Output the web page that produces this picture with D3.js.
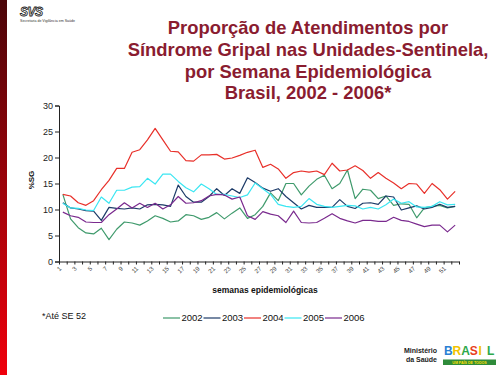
<!DOCTYPE html>
<html>
<head>
<meta charset="utf-8">
<script src="https://cdn.jsdelivr.net/npm/d3@7"></script>
<style>
  html, body { margin: 0; padding: 0; background: #fff; }
  svg { display: block; font-family: Arial, "Liberation Sans", sans-serif; }
</style>
</head>
<body>
<svg id="chart" width="500" height="375"></svg>
<script>
// weeks 1..52, %SG per year
const weeks = d3.range(1, 53);
const years = ['2002', '2003', '2004', '2005', '2006'];
const colors = ['#3f9a6c', '#1d3b68', '#e8302a', '#3ae6f2', '#7a2a8e'];

const s2002 = [12.9, 8.2, 6.5, 5.5, 5.3, 6.4, 4.2, 6.2, 7.6, 7.4, 7.0, 7.8, 8.8, 8.3, 7.6, 7.8,
  9.0, 8.8, 8.1, 8.5, 9.4, 8.2, 9.3, 10.3, 8.3, 9.0, 10.6, 13.2, 11.7, 15.0, 15.0, 12.8,
  14.5, 15.8, 16.6, 14.0, 15.0, 17.6, 12.1, 13.9, 13.7, 12.1, 12.6, 10.8, 11.1, 11.0, 8.4, 10.3,
  10.6, 10.8, 10.3, 10.6];
const s2003 = [11.3, 10.3, 10.1, 9.8, 9.7, 7.9, 10.4, 10.2, 10.1, 10.3, 10.1, 10.9, 11.0, 10.9, 10.6, 14.7,
  12.5, 11.4, 11.4, 12.5, 14.0, 12.7, 14.0, 13.1, 16.1, 15.2, 14.1, 13.5, 14.0, 12.5, 11.3, 10.1,
  10.8, 10.4, 10.4, 10.4, 11.9, 10.6, 10.2, 11.2, 11.3, 11.0, 12.6, 12.4, 9.9, 10.3, 10.7, 10.1,
  10.4, 11.0, 10.4, 10.6];
const s2004 = [12.9, 12.6, 11.3, 10.8, 11.7, 13.8, 15.6, 17.9, 17.9, 21.0, 21.5, 23.4, 25.6, 23.4, 21.2, 21.1,
  19.4, 19.3, 20.5, 20.5, 20.6, 19.7, 19.9, 20.4, 21.0, 21.4, 18.1, 18.7, 17.8, 16.0, 17.1, 17.4,
  17.2, 17.4, 16.7, 18.9, 17.4, 17.6, 18.4, 17.5, 16.0, 17.1, 16.0, 15.1, 14.0, 15.0, 14.9, 13.1,
  15.0, 13.8, 12.0, 13.5];
const s2005 = [11.2, 10.3, 10.2, 9.9, 9.8, 12.4, 11.2, 13.7, 13.7, 14.3, 14.4, 16.0, 14.9, 16.8, 16.8, 15.4,
  14.2, 13.4, 14.9, 14.0, 12.9, 12.9, 12.6, 12.3, 12.8, 15.1, 14.0, 12.9, 11.0, 10.6, 10.4, 10.6,
  12.1, 11.0, 10.6, 10.4, 10.6, 10.8, 10.7, 10.1, 10.4, 10.1, 10.9, 12.0, 11.2, 11.5, 10.5, 10.4,
  10.6, 11.5, 10.9, 11.0];
const s2006 = [9.5, 8.8, 8.5, 7.6, 7.5, 7.5, 9.0, 10.1, 11.3, 10.3, 11.2, 10.4, 11.2, 10.1, 10.9, 12.5,
  11.2, 11.3, 11.7, 12.6, 12.9, 12.8, 12.0, 12.4, 8.8, 8.1, 9.6, 9.1, 8.8, 7.5, 9.7, 7.5,
  7.4, 7.5, 8.3, 9.2, 8.3, 7.8, 7.4, 7.9, 7.9, 7.7, 7.7, 8.5, 7.9, 7.7, 7.2, 6.7,
  7.0, 7.0, 5.7, 7.0];
const series = [s2002, s2003, s2004, s2005, s2006];
const yTicks = [0, 5, 10, 15, 20, 25, 30];
const titleLines = ['Proporção de Atendimentos por', 'Síndrome Gripal nas Unidades-Sentinela,',
  'por Semana Epidemiológica', 'Brasil, 2002 - 2006*'];

const svg = d3.select('#chart');
const defs = svg.append('defs');

// left red strip
const grad = defs.append('linearGradient').attr('id', 'strip').attr('x1', 0).attr('y1', 0).attr('x2', 0).attr('y2', 1);
grad.append('stop').attr('offset', '0%').attr('stop-color', '#4a0508');
grad.append('stop').attr('offset', '100%').attr('stop-color', '#f0000c');
svg.append('rect').attr('x', 0).attr('y', 0).attr('width', 7).attr('height', 375).attr('fill', 'url(#strip)');

// SVS logo
svg.append('text').attr('x', 20).attr('y', 16).attr('font-size', 12).attr('font-weight', 'bold')
  .attr('font-style', 'italic').attr('fill', '#fff').attr('stroke', '#222').attr('stroke-width', 0.8)
  .attr('letter-spacing', -0.5).text('SVS');
svg.append('text').attr('x', 20).attr('y', 22).attr('font-size', 3.6).attr('fill', '#333')
  .text('Secretaria de Vigilância em Saúde');

// title
svg.append('text').attr('text-anchor', 'middle').attr('font-size', 18.4).attr('font-weight', 'bold')
  .attr('fill', '#8a1c30')
  .selectAll('tspan').data(titleLines).join('tspan')
  .attr('x', 308).attr('y', (d, i) => 34 + i * 21.8).text(d => d);

// scales
const x = d3.scalePoint().domain(weeks).range([59, 459]).padding(0.5);
const xEdge = d3.scaleLinear().domain([0, 52]).range([59, 459]);
const y = d3.scaleLinear().domain([0, 30]).range([261.5, 105.5]);

// y axis
const yAxis = svg.append('g').attr('transform', 'translate(59,0)')
  .call(d3.axisLeft(y).tickValues(yTicks).tickSize(4).tickPadding(2));
yAxis.select('.domain').attr('stroke', '#222');
yAxis.selectAll('.tick line').attr('stroke', '#222');
yAxis.selectAll('.tick text').attr('font-size', 9).attr('fill', '#222').attr('font-family', 'Arial, sans-serif');

// x axis (ticks between categories)
const xAxis = svg.append('g').attr('transform', 'translate(0,261.5)')
  .call(d3.axisBottom(xEdge).tickValues(d3.range(0, 53)).tickSize(3).tickSizeOuter(0).tickFormat(''));
xAxis.select('.domain').attr('stroke', '#222');
xAxis.selectAll('.tick line').attr('stroke', '#222');

svg.append('g').selectAll('text').data(weeks.filter(w => w % 2 === 1)).join('text')
  .attr('transform', d => `translate(${x(d) - 1},${269}) rotate(-45)`)
  .attr('text-anchor', 'end').attr('font-size', 6.2).attr('fill', '#444').text(d => d);

// axis titles
svg.append('text').attr('transform', 'translate(34,180) rotate(-90)').attr('text-anchor', 'middle')
  .attr('font-size', 8).attr('font-weight', 'bold').attr('fill', '#111').text('%SG');
svg.append('text').attr('x', 265).attr('y', 293).attr('text-anchor', 'middle')
  .attr('font-size', 8.5).attr('font-weight', 'bold').attr('fill', '#111').text('semanas epidemiológicas');

// lines
const line = d3.line().x((d, i) => x(weeks[i])).y(d => y(d));
svg.append('g').selectAll('path').data(series).join('path')
  .attr('d', line).attr('fill', 'none')
  .attr('stroke', (d, i) => colors[i]).attr('stroke-width', 1.2).attr('stroke-linejoin', 'round');

// legend
const leg = svg.append('g').selectAll('g').data(years).join('g')
  .attr('transform', (d, i) => `translate(${163 + i * 40.5},318)`);
leg.append('line').attr('x1', 0).attr('x2', 17).attr('stroke', (d, i) => colors[i]).attr('stroke-width', 1.2);
leg.append('text').attr('x', 18.5).attr('y', 3.3).attr('font-size', 9.5).attr('fill', '#111').text(d => d);

// footnote
svg.append('text').attr('x', 42).attr('y', 319).attr('font-size', 9).attr('fill', '#111').text('*Até SE 52');

// bottom-right logos
const ms = svg.append('text').attr('font-size', 7).attr('font-weight', 'bold').attr('fill', '#222')
  .attr('text-anchor', 'end');
ms.append('tspan').attr('x', 437).attr('y', 353).text('Ministério');
ms.append('tspan').attr('x', 437).attr('y', 362).text('da Saúde');
const brasil = ['B', 'R', 'A', 'S', 'I', 'L'];
const bColors = ['#2a7fd4', '#f2c400', '#2ea84a', '#e8401c', '#f2c400', '#2ea84a'];
svg.append('g').selectAll('text').data(brasil).join('text')
  .attr('x', (d, i) => 444 + i * 8.6).attr('y', 355).attr('font-size', 12).attr('font-weight', 'bold')
  .attr('fill', (d, i) => bColors[i]).text(d => d);
svg.append('rect').attr('x', 443).attr('y', 359.5).attr('width', 53).attr('height', 5.5).attr('fill', '#2e8b3a');
svg.append('text').attr('x', 469.5).attr('y', 364).attr('text-anchor', 'middle').attr('font-size', 3.6)
  .attr('font-weight', 'bold').attr('fill', '#ffe000').text('UM PAÍS DE TODOS');
</script>
</body>
</html>
